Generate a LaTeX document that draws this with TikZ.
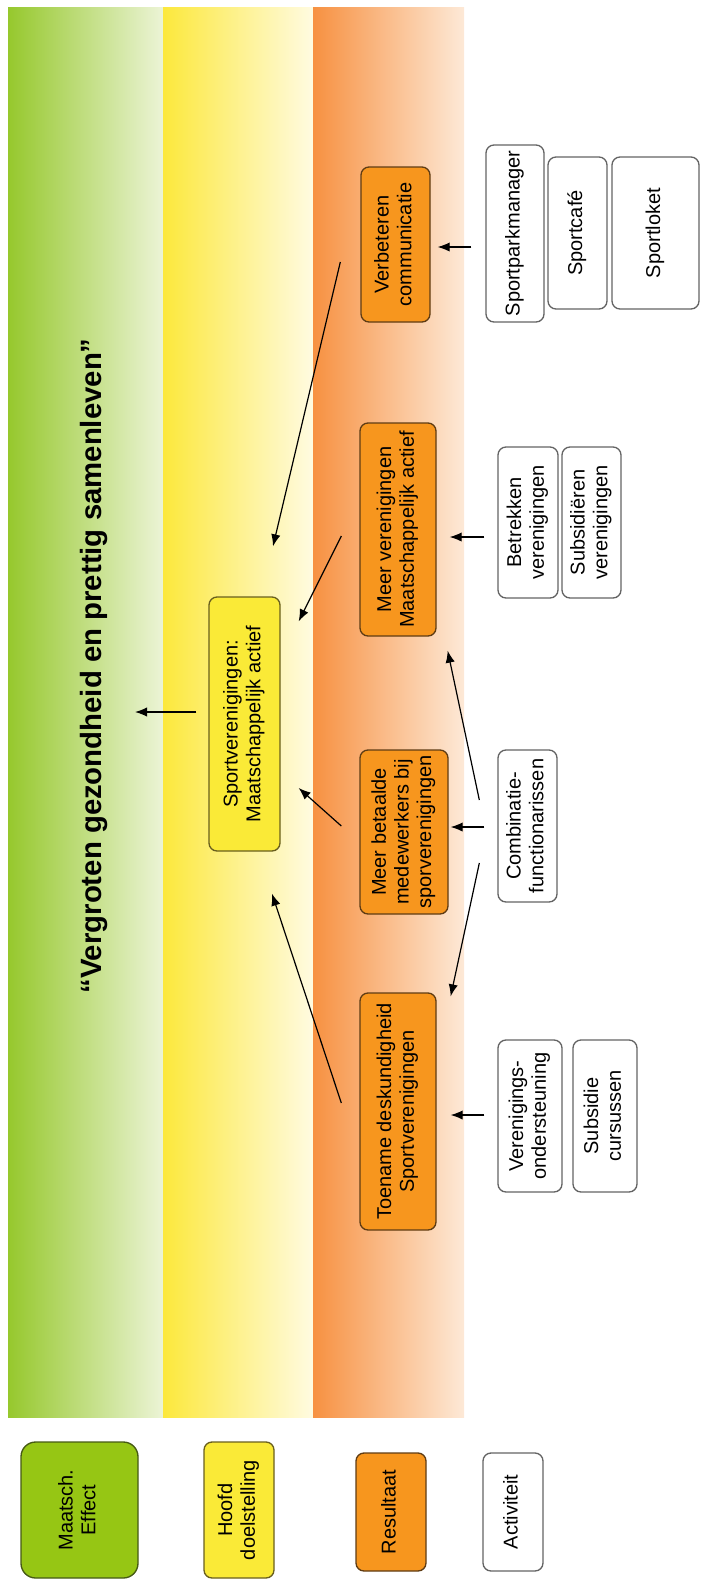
\documentclass[tikz,border=0pt]{standalone}
\usepackage{fontspec}
\setmainfont{Liberation Sans}
\usepackage{graphicx}
\usetikzlibrary{arrows.meta,calc}
\tikzset{every picture/.style={line width=0.75pt}}

\definecolor{effectfill}{RGB}{150,198,20}
\definecolor{effectline}{RGB}{70,90,20}
\definecolor{goalfill}{RGB}{250,234,55}
\definecolor{goalline}{RGB}{105,95,30}
\definecolor{resultfill}{RGB}{247,150,30}
\definecolor{resultline}{RGB}{95,60,20}
\definecolor{activityline}{RGB}{100,100,100}

\newcommand{\vtext}[1]{\rotatebox{90}{\begin{tabular}{@{}c@{}}#1\end{tabular}}}

\tikzset{
	box/.style={draw, rounded corners=6pt, inner sep=0pt, line width=1pt, font=\fontsize{15}{17}\selectfont},
	effectbox/.style={box, draw=effectline, fill=effectfill, rounded corners=11pt},
	goalbox/.style={box, draw=goalline, fill=goalfill},
	resultbox/.style={box, draw=resultline, fill=resultfill},
	activitybox/.style={box, draw=activityline, fill=white},
	arrow/.style={line width=0.9pt, -{Latex[length=9pt,width=7pt]}},
}

\begin{document}
\begin{tikzpicture}[x=0.75pt,y=0.75pt,yscale=-1,xscale=1]
	\useasboundingbox (0,0) rectangle (701,1582);
	
	%Shape: Bands
	\shade[left color={rgb,255:red,150;green,200;blue,45}, middle color={rgb,255:red,205;green,228;blue,150}, right color={rgb,255:red,236;green,244;blue,214}] (8,7) rectangle (163,1417);
	\shade[left color={rgb,255:red,252;green,232;blue,60}, middle color={rgb,255:red,253;green,245;blue,165}, right color={rgb,255:red,255;green,251;blue,225}] (163,7) rectangle (313,1417);
	\shade[left color={rgb,255:red,247;green,145;blue,65}, middle color={rgb,255:red,250;green,192;blue,145}, right color={rgb,255:red,253;green,233;blue,215}] (313,7) rectangle (464,1417);
	
	% Text Node
	\node[inner sep=0pt, anchor=east, font=\fontsize{22}{26}\selectfont\bfseries] (title) at (108,666) {\rotatebox{90}{“Vergroten gezondheid en prettig samenleven”}};
	
	%Shape: Rounded Rect (goal)
	\node[goalbox, minimum width=53.25pt, minimum height=190.5pt] (sport) at (244.5,724) {\vtext{Sportverenigingen:\\Maatschappelijk actief}};
	
	%Shape: Rounded Rect (results)
	\node[resultbox, minimum width=51.75pt, minimum height=116.25pt] (verbeter) at (395.5,244.5) {\vtext{Verbeteren\\communicatie}};
	\node[resultbox, minimum width=57pt, minimum height=159.75pt] (meerver) at (398,529.5) {\vtext{Meer verenigingen\\Maatschappelijk actief}};
	\node[resultbox, minimum width=66pt, minimum height=123pt] (betaald) at (404,832) {\vtext{Meer betaalde\\medewerkers bij\\sporverenigingen}};
	\node[resultbox, minimum width=57pt, minimum height=177.75pt] (toename) at (398,1111.5) {\vtext{Toename deskundigheid\\Sportverenigingen}};
	
	%Shape: Rounded Rect (activities)
	\node[activitybox, minimum width=43.5pt, minimum height=132.75pt] (sportpark) at (515,233.5) {\vtext{Sportparkmanager}};
	\node[activitybox, minimum width=44.25pt, minimum height=114pt] (sportcafe) at (577.5,233) {\vtext{Sportcafé}};
	\node[activitybox, minimum width=65.25pt, minimum height=114pt] (sportloket) at (655.5,233) {\vtext{Sportloket}};
	\node[activitybox, minimum width=45pt, minimum height=113.25pt] (betrekken) at (528,522.5) {\vtext{Betrekken\\verenigingen}};
	\node[activitybox, minimum width=44.25pt, minimum height=113.25pt] (subsidieren) at (591.5,522.5) {\vtext{Subsidiëren\\verenigingen}};
	\node[activitybox, minimum width=44.25pt, minimum height=114pt] (combinatie) at (527.5,826) {\vtext{Combinatie-\\functionarissen}};
	\node[activitybox, minimum width=48pt, minimum height=114pt] (vereniging) at (530,1116) {\vtext{Verenigings-\\ondersteuning}};
	\node[activitybox, minimum width=48pt, minimum height=114pt] (subcursus) at (605,1116) {\vtext{Subsidie\\cursussen}};
	
	%Shape: Rounded Rect (legend)
	\node[effectbox, minimum width=87.75pt, minimum height=102pt] (legeffect) at (79.5,1510) {\vtext{Maatsch.\\Effect}};
	\node[goalbox, minimum width=52.5pt, minimum height=102pt] (leggoal) at (239,1510) {\vtext{Hoofd\\doelstelling}};
	\node[resultbox, minimum width=52.5pt, minimum height=88.5pt] (legresult) at (391,1512) {\vtext{Resultaat}};
	\node[activitybox, minimum width=45pt, minimum height=88.5pt] (legactivity) at (513,1512) {\vtext{Activiteit}};
	
	%Straight Lines (to goal and effect)
	\draw[arrow] ($(sport.west)+(-12,-12)$) -- ($(title.east)+(27,46)$);
	\draw[arrow] ($(verbeter.west)+(-20,17.5)$) -- ($(sport.north)+(28.5,-50)$);
	\draw[arrow] ($(meerver.west)+(-18,6.5)$) -- ($(sport.north east)+(18,25)$);
	\draw[arrow] ($(betaald.west)+(-18,-6)$) -- ($(sport.east)+(18,64)$);
	\draw[arrow] ($(toename.west)+(-18,-8.5)$) -- ($(sport.south)+(27.5,42)$);
	
	%Straight Lines (to results)
	\draw[arrow] ($(sportpark.west)+(-14,13.5)$) -- ($(verbeter.east)+(7,2.5)$);
	\draw[arrow] ($(betrekken.west)+(-13,14.5)$) -- ($(meerver.east)+(13,7.5)$);
	\draw[arrow] ($(combinatie.west)+(-18,-26)$) -- ($(meerver.south east)+(11,14)$);
	\draw[arrow] ($(combinatie.west)+(-13,1)$) -- ($(betaald.east)+(2,-5)$);
	\draw[arrow] ($(combinatie.west)+(-18,37)$) -- ($(toename.north east)+(14,4)$);
	\draw[arrow] ($(vereniging.west)+(-13,-1)$) -- ($(toename.east)+(14,3.5)$);
	
\end{tikzpicture}
\end{document}
